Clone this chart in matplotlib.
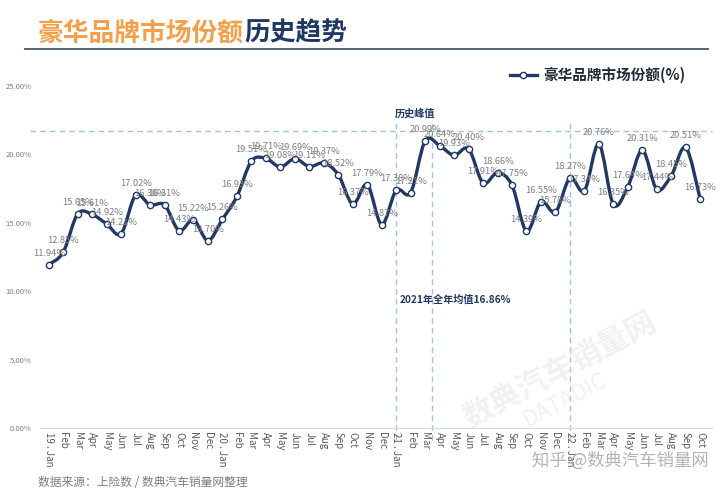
import numpy as np
import matplotlib
matplotlib.use("Agg")
import matplotlib.pyplot as plt
from matplotlib.path import Path
from matplotlib.patches import PathPatch
from matplotlib.lines import Line2D

plt.rcParams['font.family'] = ['Noto Sans CJK SC', 'DejaVu Sans']

# ---- data ----
months = ["Jan", "Feb", "Mar", "Apr", "May", "Jun", "Jul", "Aug", "Sep", "Oct", "Nov", "Dec"]
year_prefix = ["19", "20", "21", "22"]
share_2019 = [11.94, 12.85, 15.65, 15.61, 14.92, 14.21, 17.02, 16.30, 16.31, 14.43, 15.22, 13.70]
share_2020 = [15.26, 16.93, 19.51, 19.71, 19.08, 19.69, 19.11, 19.37, 18.52, 16.37, 17.79, 14.87]
share_2021 = [17.38, 17.21, 20.99, 20.64, 19.93, 20.40, 17.91, 18.66, 17.75, 14.39, 16.55, 15.78]
share_2022 = [18.27, 17.34, 20.76, 16.35, 17.64, 20.31, 17.44, 18.45, 20.51, 16.73]
series_name = "豪华品牌市场份额(%)"
peak_level = 21.7
year_start_idx = [24, 36]
peak_marker_idx = 26.5
avg_note = "2021年全年均值16.86%"
peak_note = "历史峰值"

values = share_2019 + share_2020 + share_2021 + share_2022
labels = []
for yi, yearvals in enumerate([share_2019, share_2020, share_2021, share_2022]):
    for mi in range(len(yearvals)):
        labels.append(f"{year_prefix[yi]} . Jan" if mi == 0 else months[mi])
x = np.arange(len(values))
y = np.array(values)

navy = "#1F3864"
gray = "#7F7F7F"
dash_blue = "#9DC3E6"

fig = plt.figure(figsize=(7.2, 4.91), dpi=100)
ax = fig.add_axes([0.0556, 0.1283, 0.933, 0.6965])
ax.set_xlim(-0.6, 45.8)
ax.set_ylim(0, 25)

# smooth line (Catmull-Rom rendered as Bezier path)
verts = [(x[0], y[0])]
codes = [Path.MOVETO]
n = len(x)
for i in range(n - 1):
    p0 = np.array([x[max(i - 1, 0)], y[max(i - 1, 0)]])
    p1 = np.array([x[i], y[i]])
    p2 = np.array([x[i + 1], y[i + 1]])
    p3 = np.array([x[min(i + 2, n - 1)], y[min(i + 2, n - 1)]])
    c1 = p1 + (p2 - p0) / 6.0
    c2 = p2 - (p3 - p1) / 6.0
    verts += [tuple(c1), tuple(c2), tuple(p2)]
    codes += [Path.CURVE4] * 3
ax.add_patch(PathPatch(Path(verts, codes), facecolor="none", edgecolor=navy,
                       lw=2.4, zorder=3, capstyle="round", joinstyle="round"))
ax.plot(x, y, ls="none", marker="o", ms=4.5, mfc="white", mec=navy, mew=1.0, zorder=4)

for xi, yi in zip(x, y):
    ax.annotate(f"{yi:.2f}%", (xi, yi), xytext=(0, 5), textcoords="offset points",
                ha="center", va="bottom", fontsize=6.7, color=gray, zorder=5)

# reference lines
ax.plot([-1.3, 45.8], [peak_level, peak_level], ls=(0, (4, 3)), color=dash_blue, lw=1.0,
        clip_on=False, zorder=1)
for xv in year_start_idx + [peak_marker_idx]:
    ax.plot([xv, xv], [-0.9, 22.5], ls=(0, (4, 3)), color=dash_blue, lw=1.0,
            clip_on=False, zorder=1)

ax.text(25.3, 22.6, peak_note, fontsize=7.3, fontweight="bold", color=navy, ha="center", va="bottom")
ax.text(28.1, 9.4, avg_note, fontsize=7.3, fontweight="bold", color=navy, ha="center", va="center")

# axes styling
for s in ["top", "right", "left"]:
    ax.spines[s].set_visible(False)
ax.spines["bottom"].set_color("#D9D9D9")
ax.spines["bottom"].set_linewidth(0.8)
ax.set_yticks([0, 5, 10, 15, 20, 25])
ax.set_yticklabels([f"{v:.2f}%" for v in [0, 5, 10, 15, 20, 25]], fontsize=5.5, color=gray)
ax.tick_params(axis="y", length=0, pad=6)
ax.set_xticks(x)
ax.set_xticklabels(labels, rotation=-90, fontsize=7, color="#595959", va="top")
ax.tick_params(axis="x", length=0, pad=3)

# legend
h = Line2D([], [], color=navy, lw=2.4, marker="o", ms=4.5, mfc="white", mec=navy)
leg = ax.legend([h], [series_name], loc="upper right", bbox_to_anchor=(0.98, 1.095),
                frameon=False, prop={"size": 10.5, "weight": "bold"}, handlelength=1.9,
                handletextpad=0.4)
for t in leg.get_texts():
    t.set_color("#222A35")

# title
t1 = fig.text(38 / 720, 1 - 33 / 491, "豪华品牌市场份额", fontsize=18.5, fontweight="bold",
              color="#F4A04B", ha="left", va="center")
fig.canvas.draw()
bb = t1.get_window_extent()
fig.text(bb.x1 / fig.bbox.width, 1 - 33 / 491, "历史趋势", fontsize=18.5, fontweight="bold",
         color=navy, ha="left", va="center")
fig.add_artist(Line2D([25 / 720, 708 / 720], [1 - 48.5 / 491, 1 - 48.5 / 491], color="#44546A", lw=1.3))

# footer & watermark
fig.text(38 / 720, 1 - 483 / 491, "数据来源：上险数 / 数典汽车销量网整理", fontsize=8.5,
         color="#7F7F7F", ha="left", va="center")
fig.text(620 / 720, 1 - 461 / 491, "知乎 @数典汽车销量网", fontsize=12.5, color="#A6A6A6",
         ha="center", va="center", alpha=0.85)
fig.text(560 / 720, 1 - 370 / 491, "数典汽车销量网", fontsize=22, color="#D9D9D9",
         ha="center", va="center", rotation=28, alpha=0.35, fontweight="bold")
fig.text(565 / 720, 1 - 400 / 491, "DATADIC", fontsize=16, color="#D9D9D9",
         ha="center", va="center", rotation=28, alpha=0.35)

fig.savefig("out.png", dpi=100)
